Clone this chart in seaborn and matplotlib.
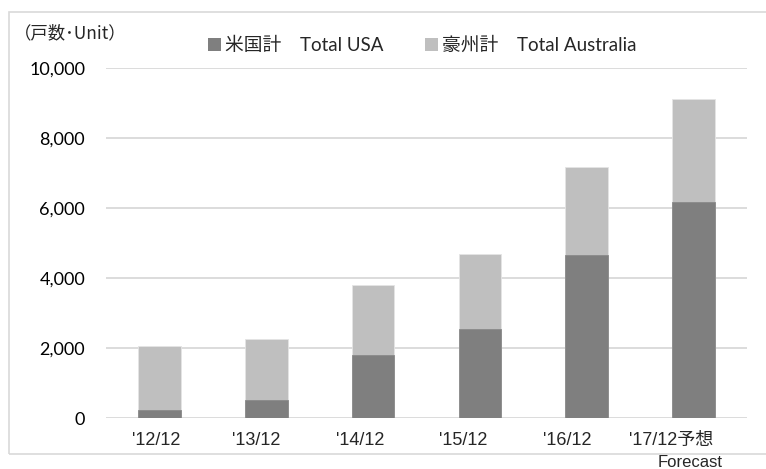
import pandas as pd
import seaborn as sns
import matplotlib.pyplot as plt
from matplotlib.patches import Patch, Rectangle
from matplotlib.transforms import offset_copy

# data
periods = ["'12/12", "'13/12", "'14/12", "'15/12", "'16/12", "'17/12予想"]
usa = [230, 510, 1790, 2540, 4660, 6180]
australia = [1830, 1750, 2010, 2150, 2510, 2920]

dark = '#7f7f7f'
light = '#bfbfbf'
grid = '#d9d9d9'

df = pd.DataFrame({'period': periods, 'usa': usa, 'australia': australia})
df['total'] = df['usa'] + df['australia']

sns.set_style('white')
plt.rcParams['font.family'] = ['Lato', 'Noto Sans CJK JP', 'DejaVu Sans']

fig = plt.figure(figsize=(7.66, 4.69), dpi=100)
ax = fig.add_axes([106 / 766, 1 - 418 / 469, (747 - 106) / 766, (418 - 68) / 469])

# outer frame of the chart area
fig.patches.append(Rectangle((9 / 766, 1 - 454 / 469), 1.0, (454 - 12) / 469,
                             transform=fig.transFigure, fill=False,
                             edgecolor=grid, linewidth=1.2))

sns.barplot(data=df, x='period', y='total', color=light, saturation=1,
            width=0.4, edgecolor='#e4e4e4', linewidth=0.6, ax=ax)
sns.barplot(data=df, x='period', y='usa', color=dark, saturation=1,
            width=0.4, edgecolor='#8a8a8a', linewidth=0.6, ax=ax)

ax.set_ylim(0, 10000)
ax.set_xlim(-0.5, len(periods) - 0.5)
ax.set_yticks(range(0, 10001, 2000))
ax.set_yticklabels([f'{v:,}' for v in range(0, 10001, 2000)], fontsize=13)
ax.yaxis.grid(True, color=grid, linewidth=1.3)
ax.set_axisbelow(True)
for s in ax.spines.values():
    s.set_visible(False)
ax.tick_params(axis='y', length=0, pad=15, colors='black')
ax.tick_params(axis='x', length=0)
ax.set_xticklabels([])
ax.set_xlabel('')
ax.set_ylabel('')

# category labels (slightly shifted like the original)
label_shift = [-3, -10, -13, -17, -20, -22]
for i, lbl in enumerate(periods):
    tr = offset_copy(ax.get_xaxis_transform(), fig=fig,
                     x=label_shift[i] / 100, y=-22 / 100, units='inches')
    ax.text(i, 0, lbl, transform=tr, ha='center', va='center', fontsize=13,
            family=['Liberation Sans', 'Noto Sans CJK JP'])
tr = offset_copy(ax.get_xaxis_transform(), fig=fig, x=-3 / 100, y=-44 / 100,
                 units='inches')
ax.text(len(periods) - 1, 0, 'Forecast', transform=tr, ha='center',
        va='center', fontsize=12, family=['Liberation Sans'])

fig.text(14 / 766, 1 - 33 / 469, '（戸数･Unit）', ha='left', va='center',
         fontsize=12.5, family=['Noto Sans CJK JP', 'DejaVu Sans'])

handles = [Patch(facecolor=dark, edgecolor='none'),
           Patch(facecolor=light, edgecolor='none')]
fig.legend(handles, ['米国計　Total USA', '豪州計　Total Australia'],
           loc='center', bbox_to_anchor=(422 / 766, 1 - 45 / 469), ncol=2,
           frameon=False, fontsize=13.5, handlelength=0.7, handleheight=0.7,
           handletextpad=0.2, columnspacing=2.2)

fig.savefig('out.png', dpi=100)
